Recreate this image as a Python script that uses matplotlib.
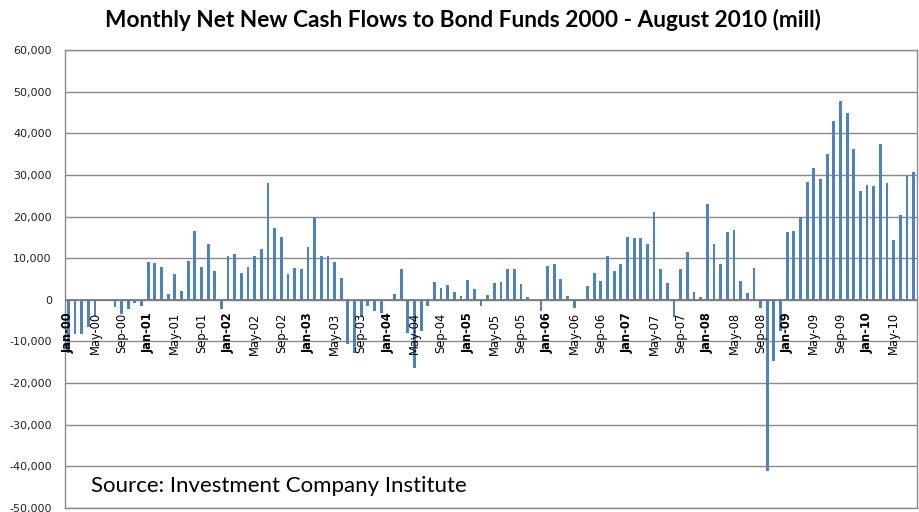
import matplotlib
matplotlib.use("Agg")
import matplotlib.pyplot as plt
import matplotlib.transforms as mtransforms

# monthly net new cash flows to bond funds, $ mill, Jan 2000 - Aug 2010
flows_2000 = [-12800, -8300, -8300, -6600, -4000, -200, -300, -1800, -3300, -2100, -700, -1400]
flows_2001 = [9000, 8900, 7800, 1500, 6100, 2200, 9300, 16600, 7800, 13300, 7000, -2200]
flows_2002 = [10500, 11000, 6500, 7800, 10500, 12200, 28000, 17300, 15200, 6100, 7600, 7400]
flows_2003 = [12600, 19800, 10600, 10600, 9000, 5200, -10700, -12700, -4000, -1400, -2800, -3200]
flows_2004 = [-200, 1500, 7500, -8000, -16400, -7600, -1400, 4200, 2800, 3600, 1800, 800]
flows_2005 = [4700, 2600, -1400, 1100, 4100, 4200, 7400, 7400, 3800, 600, -200, -2800]
flows_2006 = [8200, 8600, 5100, 1000, -2000, -200, 3400, 6400, 4400, 10500, 6900, 8600]
flows_2007 = [15000, 14900, 14900, 13300, 21200, 7400, 4000, -4200, 7400, 11400, 1900, 600]
flows_2008 = [23000, 13400, 8600, 16400, 16800, 4600, 1600, 7600, -2000, -41200, -14800, -7400]
flows_2009 = [16400, 16600, 19900, 28400, 31700, 29000, 35000, 43000, 47800, 44900, 36200, 26200]
flows_2010 = [27500, 27300, 37400, 28000, 14400, 20400, 30000, 30800]

flows = (flows_2000 + flows_2001 + flows_2002 + flows_2003 + flows_2004 + flows_2005
         + flows_2006 + flows_2007 + flows_2008 + flows_2009 + flows_2010)

month_names = ['Jan', 'Feb', 'Mar', 'Apr', 'May', 'Jun',
               'Jul', 'Aug', 'Sep', 'Oct', 'Nov', 'Dec']
labels = ['%s-%02d' % (month_names[i % 12], i // 12) for i in range(len(flows))]

y_ticks = [60000, 50000, 40000, 30000, 20000, 10000, 0, -10000, -20000, -30000, -40000, -50000]

fig = plt.figure(figsize=(9.19, 5.12), dpi=100)
ax = fig.add_axes([65 / 919, 4 / 512, 852 / 919, 458 / 512])

x = list(range(len(flows)))
ax.bar(x, flows, width=0.42, color='#4F81BD', zorder=3)

ax.set_xlim(-0.5, len(flows) - 0.5)
ax.set_ylim(-50000, 60000)
ax.set_yticks(y_ticks)
ax.set_yticklabels(['{:,}'.format(v) for v in y_ticks], fontsize=8, color='#222222')
ax.tick_params(axis='y', length=0, pad=9.5)
ax.set_xticks([])

for v in y_ticks:
    ax.axhline(v, color='#8a8a8a', lw=1, zorder=1)
ax.axhline(0, color='#7a7a7a', lw=1.3, zorder=4)

for s in ax.spines.values():
    s.set_color('#8a8a8a')
    s.set_linewidth(1)

# month labels hang just below the zero line
trans = mtransforms.offset_copy(ax.transData, fig=fig, x=0, y=-9, units='points')
for i in range(0, len(flows), 4):
    ax.text(i, 0, labels[i], rotation=90, ha='center', va='top', fontsize=8.3,
            fontweight='bold' if labels[i].startswith('Jan') else 'normal',
            transform=trans, zorder=5)

fig.text(463 / 919, 1 - 20 / 512, 'Monthly Net New Cash Flows to Bond Funds 2000 - August 2010 (mill)',
         ha='center', va='center', fontsize=16.3, fontweight='bold', family=['Lato', 'DejaVu Sans'])

fig.text(91 / 919, 1 - 486 / 512, 'Source: Investment Company Institute', fontsize=16,
         family=['Lato', 'DejaVu Sans'], ha='left', va='center')

plt.savefig('out.png', dpi=100)
